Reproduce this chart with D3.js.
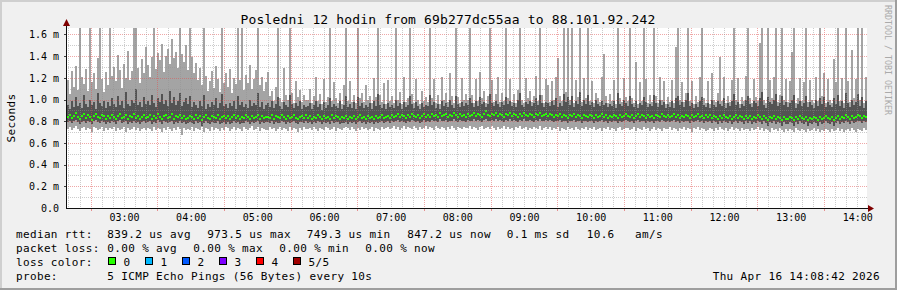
<!DOCTYPE html>
<html>
<head>
<meta charset="utf-8">
<script src="https://cdn.jsdelivr.net/npm/d3@7"></script>
<style>
  body { margin: 0; background: #f0f0f0; }
  svg text { font-family: "DejaVu Sans Mono", monospace; }
</style>
</head>
<body>
<div id="chart"></div>
<script>
var chartTitle = "Posledni 12 hodin from 69b277dc55aa to 88.101.92.242";
var yAxisTitle = "Seconds";
var watermark = "RRDTOOL / TOBI OETIKER";
var endTime = new Date(Date.UTC(2026, 3, 16, 14, 8, 42));
var spanHours = 12;

var yTickValues = [0, 0.2, 0.4, 0.6, 0.8, 1.0, 1.2, 1.4, 1.6];
var yTickLabels = ["0.0", "0.2 m", "0.4 m", "0.6 m", "0.8 m", "1.0 m", "1.2 m", "1.4 m", "1.6 m"];

// five sorted pings per step, in units of 0.01 ms
var pingMax = [
  118,105,126,112,131,109,178,121,114,128,108,175,116,124,110,138,182,119,107,125,
  113,176,122,130,117,141,127,111,133,120,145,118,126,172,180,129,115,137,124,148,
  132,121,139,174,128,143,136,151,125,140,147,133,156,138,144,129,184,142,135,150,
  127,177,139,124,134,118,129,113,179,122,108,117,126,111,131,119,107,173,115,124,
  112,128,106,120,114,181,118,176,109,123,115,132,110,119,127,186,113,121,108,116,
  125,103,108,99,112,174,101,98,129,104,100,179,106,97,117,102,109,98,104,100,
  100,110,97,103,121,99,105,96,119,98,102,177,99,116,101,97,106,96,113,183,
  99,117,98,104,97,172,101,106,98,113,100,103,97,120,102,180,104,98,115,96,
  118,99,103,97,175,100,107,96,121,98,101,169,105,97,119,100,96,108,99,102,
  98,184,101,119,97,104,96,121,100,106,98,124,103,97,178,102,97,120,100,105,
  100,176,104,97,119,99,125,101,108,97,103,182,118,98,105,121,98,106,99,174,
  101,119,98,105,97,109,177,100,97,120,101,108,98,103,122,99,181,104,97,119,
  113,98,117,100,121,138,103,99,187,107,176,100,179,97,118,102,183,98,120,101,
  175,99,117,97,106,101,98,121,142,103,97,105,99,118,96,185,101,98,120,102,
  99,178,101,97,135,96,116,99,174,119,97,104,98,181,103,97,121,100,117,96,
  102,98,118,97,148,176,100,116,98,106,183,99,117,96,103,98,121,179,101,97,
  117,96,124,100,98,106,139,99,121,97,103,98,118,184,100,120,96,102,99,122,
  177,101,97,119,102,99,152,186,100,97,174,118,101,121,188,98,104,180,100,119,
  98,117,144,175,97,101,120,99,116,182,98,118,100,97,121,99,171,103,124,97,
  119,100,97,137,116,178,99,120,97,185,117,98,146,101,119,187,100,176,97,121
];
var pingHigh = [
  95,91,99,93,102,94,97,92,104,96,93,100,95,98,91,106,97,94,99,92,
  98,94,101,96,93,103,95,99,92,107,96,94,100,97,110,95,98,93,102,96,
  99,95,104,97,93,101,98,105,96,100,94,108,97,102,95,99,106,94,98,101,
  96,103,93,98,95,92,99,94,104,91,96,93,98,95,101,92,97,105,94,96,
  92,97,94,99,91,103,95,98,93,96,92,100,94,97,95,106,93,98,91,95,
  97,93,99,92,96,102,94,91,98,95,93,104,96,92,97,94,99,91,95,93,
  94,97,91,95,99,93,96,90,98,92,95,101,93,96,94,92,99,91,95,103,
  93,96,92,98,91,102,94,97,92,95,93,97,91,99,94,105,95,92,96,91,
  97,93,95,92,100,94,97,91,98,93,95,103,96,92,98,94,91,97,93,95,
  94,104,95,98,92,96,91,99,94,97,93,100,95,92,103,96,93,98,94,97,
  95,101,97,93,99,94,102,96,98,93,96,105,97,94,99,96,93,98,95,102,
  96,99,94,97,93,100,106,95,93,98,96,99,94,97,101,95,104,97,93,98,
  97,94,99,95,101,93,97,94,105,98,102,95,103,93,99,96,107,94,100,96,
  104,95,98,93,100,96,94,99,95,97,93,96,94,99,92,106,96,94,100,97,
  94,103,96,93,99,92,97,95,102,98,93,96,94,104,97,93,100,95,98,92,
  96,93,99,92,101,103,95,98,93,100,106,94,97,92,96,93,99,102,95,93,
  97,92,100,95,93,99,96,94,101,92,97,94,99,105,95,98,92,96,94,100,
  103,96,93,99,97,94,101,107,95,92,102,98,96,100,105,94,97,103,95,98,
  93,97,100,104,92,96,99,94,97,103,93,98,95,92,100,94,101,96,102,93,
  98,95,93,101,96,104,94,99,92,106,97,93,100,95,98,105,94,102,92,99
];
var pingMedian = [
  84,86,83,85,88,84,82,85,87,83,86,84,81,85,87,84,83,86,85,82,
  85,83,86,84,82,85,87,83,84,86,82,85,84,87,83,85,82,84,86,83,
  84,86,82,85,83,87,84,82,85,86,83,84,87,82,85,84,86,83,85,82,
  83,85,84,82,86,83,85,81,84,86,83,82,85,84,83,86,82,84,85,83,
  85,82,84,86,83,85,82,84,83,86,84,82,85,83,84,86,82,85,83,84,
  84,83,86,82,85,84,83,86,84,82,85,83,84,86,83,82,84,85,83,86,
  83,85,82,84,83,86,84,82,85,83,84,82,86,83,85,84,82,84,83,85,
  82,84,83,85,82,84,86,83,84,82,85,83,84,82,85,83,84,86,83,84,
  85,83,86,84,85,87,84,86,85,83,86,84,87,85,84,86,83,85,87,84,
  86,84,87,85,86,84,88,85,86,87,84,86,85,88,86,84,87,85,86,84,
  87,85,86,88,85,87,86,84,87,89,86,85,87,86,88,85,87,86,84,87,
  86,88,85,87,86,84,87,85,88,86,85,87,86,84,87,86,88,85,86,87,
  85,87,86,84,86,85,87,84,86,85,83,86,85,87,84,86,85,83,86,85,
  84,86,85,83,86,84,85,87,84,86,83,85,84,86,85,83,86,84,85,87,
  85,84,86,83,85,87,84,86,85,83,86,84,85,83,86,85,84,87,85,84,
  86,84,85,87,84,86,83,85,84,86,85,83,86,84,85,87,84,85,83,86,
  84,86,83,85,84,82,85,83,86,84,83,85,82,84,86,83,85,84,82,85,
  83,85,82,84,83,86,84,82,85,83,81,84,83,85,82,84,83,81,84,82,
  82,84,83,81,84,82,85,83,82,84,81,83,82,84,83,81,84,82,83,85,
  83,82,84,81,83,85,82,84,83,86,84,82,85,83,84,86,85,83,85,84
];
var pingLow = [
  79,80,78,80,81,79,77,79,80,78,80,79,77,80,81,79,78,80,79,77,
  79,78,80,79,77,80,81,78,79,80,77,79,78,80,78,79,77,79,80,78,
  79,80,77,79,78,81,79,77,80,79,78,79,80,77,79,78,80,78,79,77,
  78,79,78,77,80,78,79,76,78,80,78,77,79,78,78,80,77,78,79,77,
  79,77,78,80,78,79,77,78,78,80,79,77,79,78,79,80,77,79,78,79,
  79,78,80,77,79,78,78,80,79,77,79,78,79,80,78,77,79,79,78,80,
  78,79,77,79,78,80,79,77,79,78,79,77,80,78,79,79,77,78,78,79,
  77,79,78,79,77,79,80,78,79,77,79,78,79,77,79,78,79,80,78,79,
  80,78,80,79,80,81,79,80,79,78,80,79,81,80,79,80,78,79,81,79,
  80,79,81,80,80,79,82,80,80,81,79,80,80,82,80,79,81,80,80,79,
  81,80,80,82,80,81,80,79,81,82,80,80,81,80,82,80,81,80,79,81,
  80,82,80,81,80,79,81,80,82,80,80,81,80,79,81,80,82,80,80,81,
  80,81,80,79,80,80,81,79,80,80,78,80,80,81,79,80,80,78,80,80,
  79,80,80,78,80,79,80,81,79,80,78,80,79,80,80,78,80,79,80,81,
  80,79,80,78,80,81,79,80,80,78,80,79,80,78,80,80,79,81,80,79,
  80,79,80,81,79,80,78,80,79,80,80,78,80,79,80,81,79,80,78,80,
  79,80,78,80,79,77,80,78,80,79,78,80,77,79,80,78,80,79,77,80,
  78,80,77,79,78,80,79,77,80,78,76,79,78,80,77,79,78,76,79,77,
  77,79,78,76,79,77,80,78,77,79,76,78,77,79,78,76,79,77,78,80,
  78,77,79,76,78,80,77,79,78,80,79,77,80,78,79,80,80,78,80,79
];
var pingMin = [
  73,75,72,74,76,73,71,74,75,72,74,73,70,75,74,72,73,75,71,74,
  72,74,73,75,71,74,72,73,75,70,74,72,73,75,72,74,71,73,74,72,
  74,73,71,75,72,74,73,70,74,72,75,73,71,74,72,75,73,67,74,72,
  73,72,75,71,74,73,72,75,70,74,73,71,75,72,74,73,71,74,72,75,
  74,71,73,75,72,74,73,71,75,73,72,74,76,72,73,75,71,74,73,72,
  72,75,73,74,71,73,75,72,74,73,71,75,72,74,73,70,74,72,75,73,
  73,74,72,75,73,71,74,73,72,75,74,72,73,75,71,74,73,72,74,75,
  74,72,75,73,71,74,72,75,73,74,72,73,75,71,74,73,72,75,73,74,
  75,73,74,76,73,75,72,74,76,73,75,74,73,76,74,72,75,73,74,76,
  73,75,74,72,76,74,73,75,74,72,75,73,76,74,72,75,74,73,75,74,
  74,76,73,75,74,72,75,76,73,74,75,73,76,74,72,75,73,74,76,73,
  75,73,74,72,75,74,76,73,74,75,72,74,73,75,74,73,76,72,74,75,
  73,75,72,74,73,75,71,74,73,72,75,73,74,72,75,73,72,74,73,75,
  72,74,73,75,72,73,74,71,74,73,75,72,74,73,71,74,75,72,73,74,
  74,72,73,75,71,74,73,72,75,73,74,71,73,75,72,74,73,71,74,73,
  73,75,72,74,73,71,74,73,75,72,74,73,70,74,73,75,72,74,73,71,
  72,74,73,71,74,72,75,73,72,74,71,73,75,72,74,73,71,74,72,73,
  73,71,74,72,73,75,72,74,71,73,72,70,74,72,73,71,74,72,70,73,
  71,73,72,70,74,72,71,73,72,70,73,71,72,74,71,73,70,72,71,73,
  72,70,73,71,72,74,71,73,70,72,73,71,74,72,70,73,72,71,74,72
];

var medianLabel = "median rtt:";
var medianStats = ["839.2 us avg", "973.5 us max", "749.3 us min", "847.2 us now", "0.1 ms sd", "10.6", "am/s"];
var lossLabel = "packet loss:";
var lossStats = ["0.00 % avg", "0.00 % max", "0.00 % min", "0.00 % now"];
var colorLabel = "loss color:";
var lossNames = ["0", "1", "2", "3", "4", "5/5"];
var lossColors = ["#26ff00", "#00b8ff", "#0059ff", "#7e00ff", "#ff0000", "#a00000"];
var probeLabel = "probe:";
var probeText = "5 ICMP Echo Pings (56 Bytes) every 10s";
var stampText = "Thu Apr 16 14:08:42 2026";

var width = 897, height = 290;
var plotLeft = 67, plotRight = 867, plotTop = 27.5, plotBottom = 208;

var svg = d3.select("#chart").append("svg")
  .attr("width", width)
  .attr("height", height);

/* background and frame */
svg.append("rect").attr("width", width).attr("height", height).attr("fill", "#f0f0f0");
svg.append("path").attr("d", "M0,0H897V2H0Z M0,0H2V290H0Z").attr("fill", "#cfcfcf");
svg.append("path").attr("d", "M895,0H897V290H895Z M0,288H897V290H0Z").attr("fill", "#9e9e9e");
svg.append("rect").attr("x", plotLeft).attr("y", 28).attr("width", plotRight - plotLeft).attr("height", plotBottom - 28).attr("fill", "#fff");

/* dotted grid patterns, one pixel on, one off */
var minorGrey = "rgba(143,143,143,0.46)";
var majorRed = "rgba(224,80,80,0.5)";
var defs = svg.append("defs");
[["vg", 1, 2, minorGrey], ["vr", 1, 2, majorRed], ["hg", 2, 1, minorGrey], ["hr", 2, 1, majorRed]].forEach(function(p) {
  defs.append("pattern").attr("id", p[0]).attr("patternUnits", "userSpaceOnUse")
    .attr("width", p[1]).attr("height", p[2])
    .append("rect").attr("width", 1).attr("height", 1).attr("fill", p[3]);
});

/* Scale */
var startTime = new Date(+endTime - spanHours * 3600e3);
var x = d3.scaleUtc().domain([startTime, endTime]).range([plotLeft, plotRight]);
var y = d3.scaleLinear().domain([0, 1.664]).range([plotBottom, plotTop]);

var stepMs = (endTime - startTime) / pingMedian.length;
var steps = pingMedian.map(function(m, i) {
  return {
    t0: new Date(+startTime + i * stepMs),
    t1: new Date(+startTime + (i + 1) * stepMs),
    mn: pingMin[i] / 100, lo: pingLow[i] / 100, md: m / 100,
    hi: pingHigh[i] / 100, mx: pingMax[i] / 100
  };
});

svg.append("clipPath").attr("id", "plotclip")
  .append("rect").attr("x", plotLeft).attr("y", 28).attr("width", plotRight - plotLeft).attr("height", plotBottom - 28);

var plot = svg.append("g").attr("clip-path", "url(#plotclip)").attr("shape-rendering", "crispEdges");

// outer smoke: ping 1 .. ping 5
plot.append("g").selectAll("rect").data(steps).enter().append("rect")
  .attr("x", d => x(d.t0))
  .attr("width", d => x(d.t1) - x(d.t0))
  .attr("y", d => y(d.mx))
  .attr("height", d => y(d.mn) - y(d.mx))
  .attr("fill", "#a4a4a4");

// inner smoke: ping 2 .. ping 4
plot.append("g").selectAll("rect").data(steps).enter().append("rect")
  .attr("x", d => x(d.t0))
  .attr("width", d => x(d.t1) - x(d.t0))
  .attr("y", d => y(d.hi))
  .attr("height", d => y(d.lo) - y(d.hi))
  .attr("fill", "#535353");

// median, coloured by loss
plot.append("g").selectAll("rect").data(steps).enter().append("rect")
  .attr("x", d => x(d.t0))
  .attr("width", d => x(d.t1) - x(d.t0))
  .attr("y", d => Math.round(y(d.md)) - 1)
  .attr("height", 2)
  .attr("fill", lossColors[0]);

/* grid */
var grid = svg.append("g").attr("shape-rendering", "crispEdges");

var minorY = d3.range(1, 17, 2).map(v => v / 10);
grid.selectAll(".hminor").data(minorY).enter().append("rect")
  .attr("x", plotLeft).attr("width", plotRight - plotLeft + 1)
  .attr("y", d => Math.round(y(d))).attr("height", 1)
  .attr("fill", "url(#hg)");
grid.selectAll(".hmajor").data(yTickValues.slice(1)).enter().append("rect")
  .attr("x", plotLeft).attr("width", plotRight - plotLeft + 1)
  .attr("y", d => Math.round(y(d))).attr("height", 1)
  .attr("fill", "url(#hr)");

var tenMin = d3.utcMinute.every(10).range(startTime, endTime);
var minorX = tenMin.filter(d => d.getUTCMinutes() !== 30);
var majorX = tenMin.filter(d => d.getUTCMinutes() === 30);
grid.selectAll(".vminor").data(minorX).enter().append("rect")
  .attr("x", d => Math.round(x(d))).attr("width", 1)
  .attr("y", 28).attr("height", plotBottom - 28)
  .attr("fill", "url(#vg)");
grid.selectAll(".vmajor").data(majorX).enter().append("rect")
  .attr("x", d => Math.round(x(d))).attr("width", 1)
  .attr("y", 28).attr("height", plotBottom - 28)
  .attr("fill", "url(#vr)");

/* ticks on the axes */
var ticks = svg.append("g").attr("shape-rendering", "crispEdges");
ticks.selectAll(".xt").data(majorX).enter().append("line")
  .attr("x1", d => Math.round(x(d)) + 0.5).attr("x2", d => Math.round(x(d)) + 0.5)
  .attr("y1", plotBottom).attr("y2", plotBottom + 3)
  .attr("stroke", "rgba(224,80,80,0.6)");
ticks.selectAll(".yt").data(yTickValues.slice(1)).enter().append("line")
  .attr("x1", plotLeft - 3).attr("x2", plotLeft)
  .attr("y1", d => Math.round(y(d)) + 0.5).attr("y2", d => Math.round(y(d)) + 0.5)
  .attr("stroke", "#404040");

/* axis lines and arrows */
svg.append("line").attr("x1", plotLeft - 0.5).attr("x2", plotLeft - 0.5).attr("y1", plotBottom + 1).attr("y2", 22)
  .attr("stroke", "#101010").attr("shape-rendering", "crispEdges");
svg.append("line").attr("x1", plotLeft - 1).attr("x2", plotRight + 2).attr("y1", plotBottom + 0.5).attr("y2", plotBottom + 0.5)
  .attr("stroke", "#101010").attr("shape-rendering", "crispEdges");
svg.append("path").attr("d", `M${plotLeft - 4},26 L${plotLeft - 0.5},19 L${plotLeft + 3},26 Z`).attr("fill", "#7f0000");
svg.append("path").attr("d", `M${plotRight + 1},${plotBottom - 3} L${plotRight + 7},${plotBottom + 0.5} L${plotRight + 1},${plotBottom + 4} Z`).attr("fill", "#7f0000");

/* axis labels */
var hours = d3.utcHour.every(1).range(startTime, endTime);
var xAxis = d3.axisBottom(x).tickValues(hours).tickFormat(d3.utcFormat("%H:%M")).tickSize(0).tickPadding(6);
var yAxis = d3.axisLeft(y).tickValues(yTickValues).tickFormat((d, i) => yTickLabels[i]).tickSize(0).tickPadding(8);

svg.append("g").attr("transform", `translate(0,${plotBottom})`).call(xAxis)
  .call(g => g.select(".domain").remove())
  .selectAll("text").attr("font-family", "DejaVu Sans Mono").attr("font-size", "10px").attr("fill", "#000");
svg.append("g").attr("transform", `translate(${plotLeft},0)`).call(yAxis)
  .call(g => g.select(".domain").remove())
  .selectAll("text").attr("font-family", "DejaVu Sans Mono").attr("font-size", "10px").attr("fill", "#000");

/* titles */
svg.append("text")
  .attr("x", 448).attr("y", 24)
  .attr("text-anchor", "middle")
  .style("font-size", "13px").style("letter-spacing", "0.15px")
  .text(chartTitle);

svg.append("text")
  .attr("transform", "translate(15,118) rotate(-90)")
  .attr("text-anchor", "middle")
  .style("font-size", "11px").style("letter-spacing", "0.35px")
  .text(yAxisTitle);

svg.append("text")
  .attr("transform", "translate(885,5) rotate(90)")
  .style("font-size", "8.3px")
  .attr("fill", "#aaaaaa")
  .text(watermark);

/* legend */
var legend = svg.append("g").style("font-size", "11px").style("letter-spacing", "0.35px").attr("fill", "#000");
function put(txt, px, py) {
  legend.append("text").attr("x", px).attr("y", py).text(txt);
}
put(medianLabel, 16, 238);
var medX = [107.3, 207.3, 306.7, 407.3, 506.7, 586.7, 635];
medianStats.forEach((s, i) => put(s, medX[i], 238));

put(lossLabel, 16, 252);
var lossX = [107.3, 193.3, 279.3, 365.3];
lossStats.forEach((s, i) => put(s, lossX[i], 252));

put(colorLabel, 16, 266);
var boxX = [108.5, 145.5, 182.5, 219.5, 256.5, 293.5];
lossNames.forEach(function(n, i) {
  legend.append("rect")
    .attr("x", boxX[i]).attr("y", 257.5).attr("width", 7).attr("height", 7)
    .attr("fill", lossColors[i]).attr("stroke", "#000").attr("stroke-width", 1);
  put(n, boxX[i] + 15, 266);
});

put(probeLabel, 16, 280);
put(probeText, 107.3, 280);
legend.append("text").attr("x", 880).attr("y", 280).attr("text-anchor", "end").text(stampText);
</script>
</body>
</html>
